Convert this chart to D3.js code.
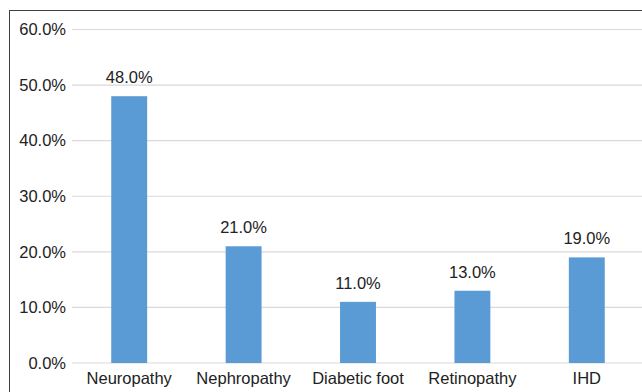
<!DOCTYPE html>
<html>
<head>
<meta charset="utf-8">
<script src="https://cdn.jsdelivr.net/npm/d3@7"></script>
<style>
  html, body { margin: 0; padding: 0; background: #fff; }
  svg { display: block; }
  text { font-family: "Liberation Sans", Arial, sans-serif; fill: #222; }
</style>
</head>
<body>
<svg id="chart" width="642" height="392"></svg>
<script>
// Complication prevalence (%)
const categories = ["Neuropathy", "Nephropathy", "Diabetic foot", "Retinopathy", "IHD"];
const values = [48.0, 21.0, 11.0, 13.0, 19.0];
const yTicks = [0, 10, 20, 30, 40, 50, 60];

const svg = d3.select("#chart");
const W = 642, H = 392;
const plot = { left: 72, right: 644, top: 29.5, bottom: 363 };

// Outer frame
svg.append("rect")
  .attr("x", 9.5).attr("y", 10.5)
  .attr("width", W + 10).attr("height", H + 10)
  .attr("fill", "none").attr("stroke", "#404040").attr("stroke-width", 1);

const x = d3.scaleBand()
  .domain(categories)
  .range([plot.left, plot.right])
  .paddingInner(0.686)
  .paddingOuter(0.343);

const y = d3.scaleLinear()
  .domain([0, 60])
  .range([plot.bottom, plot.top]);

const fmt = d => d.toFixed(1) + "%";

// Horizontal gridlines
svg.append("g")
  .selectAll("line")
  .data(yTicks)
  .join("line")
  .attr("x1", plot.left).attr("x2", W)
  .attr("y1", d => y(d)).attr("y2", d => y(d))
  .attr("stroke", "#d9d9d9").attr("stroke-width", 1.2);

// Y axis labels
const yAxis = d3.axisLeft(y).tickValues(yTicks).tickFormat(fmt).tickSize(0).tickPadding(6);
const gy = svg.append("g").attr("transform", `translate(${plot.left},0)`).call(yAxis);
gy.select(".domain").remove();
gy.selectAll("text")
  .style("font-family", "'Liberation Sans', Arial, sans-serif")
  .style("font-size", "16.5px").attr("fill", "#222");

// Bars
svg.append("g")
  .selectAll("rect")
  .data(values)
  .join("rect")
  .attr("x", (d, i) => x(categories[i]))
  .attr("y", d => y(d))
  .attr("width", x.bandwidth())
  .attr("height", d => y(0) - y(d))
  .attr("fill", "#5b9bd5");

// Value labels
svg.append("g")
  .selectAll("text")
  .data(values)
  .join("text")
  .attr("x", (d, i) => x(categories[i]) + x.bandwidth() / 2)
  .attr("y", d => y(d) - 13)
  .attr("text-anchor", "middle")
  .style("font-size", "16.5px")
  .text(fmt);

// Category axis
const xAxis = d3.axisBottom(x).tickSize(0).tickPadding(0);
const gx = svg.append("g").attr("transform", `translate(0,${plot.bottom})`).call(xAxis);
gx.select(".domain").remove();
gx.selectAll("text")
  .attr("dy", null).attr("y", 21)
  .style("font-family", "'Liberation Sans', Arial, sans-serif")
  .style("font-size", "16.5px").attr("fill", "#222");
</script>
</body>
</html>
